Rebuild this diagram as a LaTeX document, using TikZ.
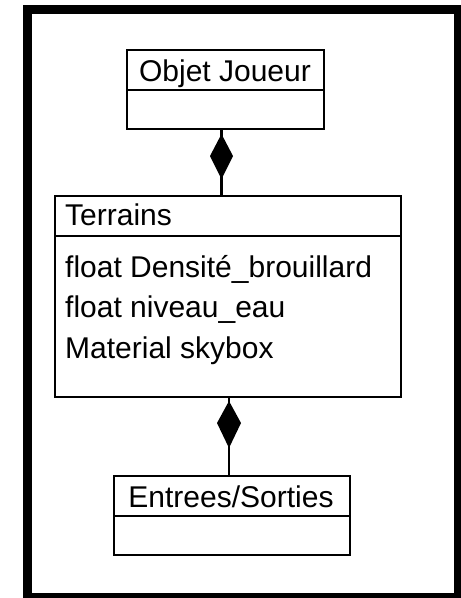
\documentclass[tikz,border=0pt]{standalone}
\usepackage{fontspec}
\setmainfont{Liberation Sans}
\begin{document}
\begin{tikzpicture}[x=1pt,y=-1pt,
  umlbox/.style={draw, line width=2pt, anchor=north west, inner sep=0pt},
  divider/.style={line width=2pt},
  label/.style={inner sep=0pt, anchor=base, font=\fontsize{30}{36}\selectfont},
  attr/.style={label, anchor=base west},
  link/.style={line width=2.2pt},
  compo/.style={fill=black}
]
\useasboundingbox (0,0) rectangle (461,598);
\fill[white] (0,0) rectangle (461,598);
% outer frame
\draw[line width=8.5pt] (27.25,9.25) rectangle (458,597.5);

% class: Objet Joueur
\node[umlbox, minimum width=197pt, minimum height=79pt] (oj) at (126,49) {};
\draw[divider] (126,90) -- (323,90);
\node[label] (ojname) at (225,81) {Objet Joueur};

% class: Terrains
\node[umlbox, minimum width=346pt, minimum height=201pt] (ter) at (54,195) {};
\draw[divider] (54,236) -- (400,236);
\node[attr] (tername) at (65,225) {Terrains};
\node[attr] (a1) at (65,277) {float Densité\_brouillard};
\node[attr] (a2) at (65,317) {float niveau\_eau};
\node[attr] (a3) at (65,358) {Material skybox};

% class: Entrees/Sorties
\node[umlbox, minimum width=236pt, minimum height=79pt] (io) at (113,475) {};
\draw[divider] (113,516) -- (349,516);
\node[label] (ioname) at (231,507) {Entrees/Sorties};

% compositions
\coordinate (c1a) at (221.5,128);
\coordinate (c1b) at (221.5,195);
\draw[link] (c1a) -- (c1b);
\fill[compo] (221.5,134) -- (233,156) -- (221.5,179) -- (210,156) -- cycle;

\coordinate (c2a) at (229,396);
\coordinate (c2b) at (229,475);
\draw[link] (c2a) -- (c2b);
\fill[compo] (229,401) -- (241,423) -- (229,448) -- (217,423) -- cycle;
\end{tikzpicture}
\end{document}
